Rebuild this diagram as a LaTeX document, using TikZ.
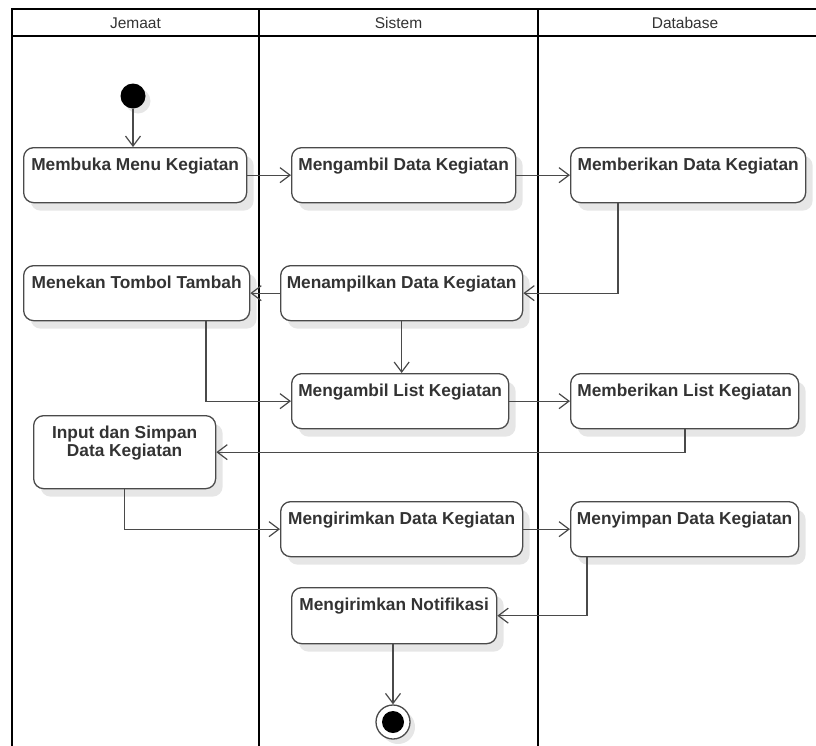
\documentclass[tikz,border=0pt]{standalone}
\usepackage{fontspec}
\setmainfont{Liberation Sans}
\usetikzlibrary{arrows.meta,shadows}
\definecolor{ink}{HTML}{333333}
\definecolor{edge}{HTML}{4A4A4A}
\definecolor{shade}{HTML}{E6E6E6}
\begin{document}
\begin{tikzpicture}[x=1pt,y=-1pt,
  lane/.style={draw=black, line width=2.4pt},
  act/.style={draw=edge, line width=1.3pt, rounded corners=10pt, fill=white,
    anchor=north west, inner xsep=2pt, inner ysep=0pt, text=ink,
    font=\fontsize{17.3}{18}\selectfont\bfseries, align=center,
    text height=23pt, text depth=32pt,
    drop shadow={shadow xshift=7pt, shadow yshift=-8pt, fill=shade, opacity=1}},
  flow/.style={draw=edge, line width=1.3pt,
    -{Straight Barb[length=10pt,width=15pt,line width=1.2pt]}},
  hdr/.style={text=ink, font=\fontsize{15.5}{16}\selectfont}
]
\useasboundingbox (0,0) rectangle (816,745);
\clip (0,0) rectangle (816,745);

% swimlanes
\draw[lane] (12,9) rectangle (830,760);
\draw[lane] (12,36) -- (830,36);
\draw[lane] (259,9) -- (259,760);
\draw[lane] (538,9) -- (538,760);
\node[hdr] (hj) at (135.5,23) {Jemaat};
\node[hdr] (hs) at (398.5,23) {Sistem};
\node[hdr] (hd) at (685,23) {Database};

% start and end
\node[circle, fill=black, minimum size=25pt, inner sep=0pt,
  drop shadow={shadow xshift=5pt, shadow yshift=-5pt, fill=shade, opacity=1}] (start) at (133,96) {};
\node[circle, draw=edge, line width=1.3pt, fill=white, minimum size=34pt, inner sep=0pt,
  drop shadow={shadow xshift=5pt, shadow yshift=-5pt, fill=shade, opacity=1}] (end) at (393,722) {};
\node[circle, fill=black, minimum size=22pt, inner sep=0pt] (endcore) at (end.center) {};

% activities
\node[act, minimum width=223pt] (m1) at (23,147) {Membuka Menu Kegiatan};
\node[act, minimum width=224pt] (m2) at (291,147) {Mengambil Data Kegiatan};
\node[act, minimum width=235pt] (m3) at (570,147) {Memberikan Data Kegiatan};
\node[act, minimum width=226pt] (m4) at (23,265) {Menekan Tombol Tambah};
\node[act, minimum width=242pt] (m5) at (280,265) {Menampilkan Data Kegiatan};
\node[act, minimum width=217pt] (m6) at (291,373) {Mengambil List Kegiatan};
\node[act, minimum width=228pt] (m7) at (570,373) {Memberikan List Kegiatan};
\node[act, minimum width=182pt, text height=41pt, text depth=32pt] (m8) at (33,415) {Input dan Simpan\\Data Kegiatan};
\node[act, minimum width=242pt] (m9) at (280,501) {Mengirimkan Data Kegiatan};
\node[act, minimum width=228pt] (m10) at (570,501) {Menyimpan Data Kegiatan};
\node[act, minimum width=205pt, text depth=33pt] (m11) at (291,587) {Mengirimkan Notifikasi};

% control flow
\draw[flow] (start) -- (start |- m1.north);
\draw[flow] (m1) -- (m2);
\draw[flow] (m2) -- (m3);
\draw[flow] ([xshift=48pt]m3.south west) |- (m5.east);
\draw[flow] (m5) -- (m4);
\draw[flow] (m5.south) -- (m5.south |- m6.north);
\draw[flow] ([xshift=183pt]m4.south west) |- (m6.west);
\draw[flow] (m6) -- (m7);
\draw[flow] ([xshift=115pt]m7.south west) |- (m8.east);
\draw[flow] (m8.south) |- (m9.west);
\draw[flow] (m9) -- (m10);
\draw[flow] ([xshift=17pt]m10.south west) |- (m11.east);
\draw[flow] (m11.south -| end) -- (end.north);
\end{tikzpicture}
\end{document}
